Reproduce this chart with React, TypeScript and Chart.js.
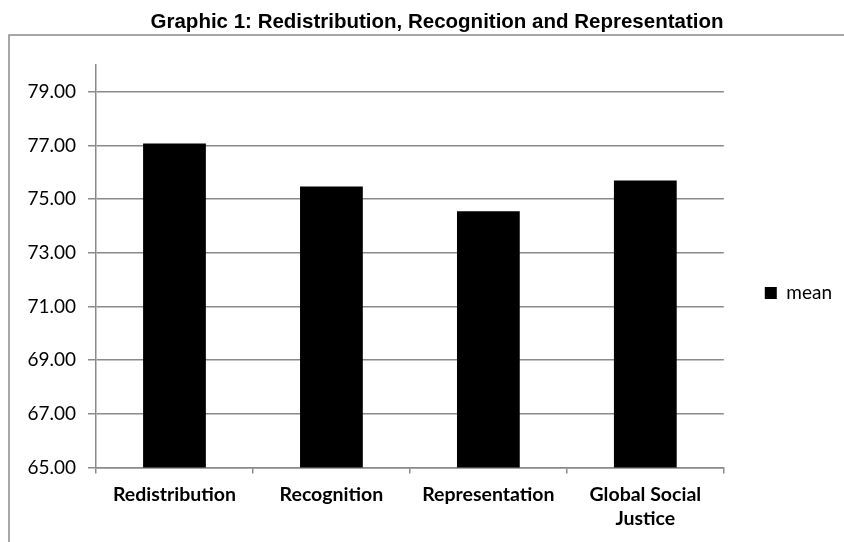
import { useEffect, useRef } from "react";
import { Chart, registerables } from "chart.js";

Chart.register(...registerables);

// Data
const chartTitle = "Graphic 1: Redistribution, Recognition and Representation";
const categories: (string | string[])[] = [
  "Redistribution",
  "Recognition",
  "Representation",
  ["Global Social", "Justice"],
];
const seriesLabel = "mean";
const meanValues = [77.07, 75.47, 74.55, 75.7];
const yTickValues = [65, 67, 69, 71, 73, 75, 77, 79];
const yMin = 65;
const yMax = 80;

const GRID = "#8a8a8a";
const LABEL_FONT = "Lato, 'Open Sans', sans-serif";
const TITLE_FONT = "bold 20.5px 'Liberation Sans', Arial, sans-serif";
const TITLE_CENTER_X = 437;
const TITLE_CENTER_Y = 22;

// Outer frame (left and top edges) plus the heading above it
const framePlugin = {
  id: "frame",
  beforeDraw(chart: Chart) {
    const { ctx } = chart;
    ctx.save();
    ctx.strokeStyle = GRID;
    ctx.lineWidth = 1.5;
    ctx.beginPath();
    ctx.moveTo(9, chart.height + 2);
    ctx.lineTo(9, 35);
    ctx.lineTo(chart.width + 2, 35);
    ctx.stroke();

    ctx.fillStyle = "#000";
    ctx.font = TITLE_FONT;
    ctx.textAlign = "center";
    ctx.textBaseline = "middle";
    ctx.fillText(chartTitle, TITLE_CENTER_X, TITLE_CENTER_Y);
    ctx.restore();
  },
};

// Centre the legend vertically within the framed area rather than the plot area
const legendPlacement = {
  id: "legendPlacement",
  afterLayout(chart: any) {
    const legend = chart.legend;
    if (!legend) return;
    legend.top = chart.chartArea.top;
    legend.bottom = chart.height - 21;
    legend.height = legend.bottom - legend.top;
  },
};

export default function App() {
  const canvasRef = useRef<HTMLCanvasElement | null>(null);

  useEffect(() => {
    const canvas = canvasRef.current;
    if (!canvas) return;
    const chart = new Chart(canvas, {
      type: "bar",
      data: {
        labels: categories,
        datasets: [
          {
            label: seriesLabel,
            data: meanValues,
            backgroundColor: "#000000",
            borderWidth: 0,
            barPercentage: 0.5,
            categoryPercentage: 0.8,
          },
        ],
      },
      options: {
        responsive: false,
        animation: false,
        devicePixelRatio: 1,
        layout: { padding: { left: 0, right: 2, top: 65, bottom: 0 } },
        plugins: {
          title: { display: false },
          legend: {
            display: true,
            position: "right",
            align: "center",
            labels: {
              boxWidth: 12,
              boxHeight: 12,
              padding: 41,
              color: "#000",
              font: { family: LABEL_FONT, size: 19 },
            },
          },
          tooltip: { enabled: false },
        },
        scales: {
          x: {
            afterFit(scale: any) {
              scale.height = 74.5;
            },
            grid: {
              display: true,
              drawOnChartArea: false,
              drawTicks: true,
              tickLength: 6,
              offset: true,
              color: GRID,
              lineWidth: 1.5,
            },
            border: { display: true, color: GRID, width: 1.5 },
            ticks: {
              color: "#000",
              padding: 10,
              maxRotation: 0,
              autoSkip: false,
              font: { family: LABEL_FONT, size: 19.5, weight: "bold", lineHeight: 1.2 },
            },
          },
          y: {
            min: yMin,
            max: yMax,
            afterFit(scale: any) {
              scale.width = 96;
            },
            afterBuildTicks(scale: any) {
              scale.ticks = yTickValues.map((v) => ({ value: v }));
            },
            grid: {
              color: GRID,
              lineWidth: 1.5,
              drawTicks: true,
              tickLength: 8,
            },
            border: { display: true, color: GRID, width: 1.5 },
            ticks: {
              color: "#000",
              padding: 12,
              font: { family: LABEL_FONT, size: 19 },
              callback: (v: any) => Number(v).toFixed(2),
            },
          },
        },
      },
      plugins: [framePlugin, legendPlacement],
    });
    return () => chart.destroy();
  }, []);

  return (
    <div style={{ position: "fixed", left: 0, top: 0, width: 844, height: 542, background: "#fff" }}>
      <canvas ref={canvasRef} width={844} height={542} style={{ display: "block" }} />
    </div>
  );
}
